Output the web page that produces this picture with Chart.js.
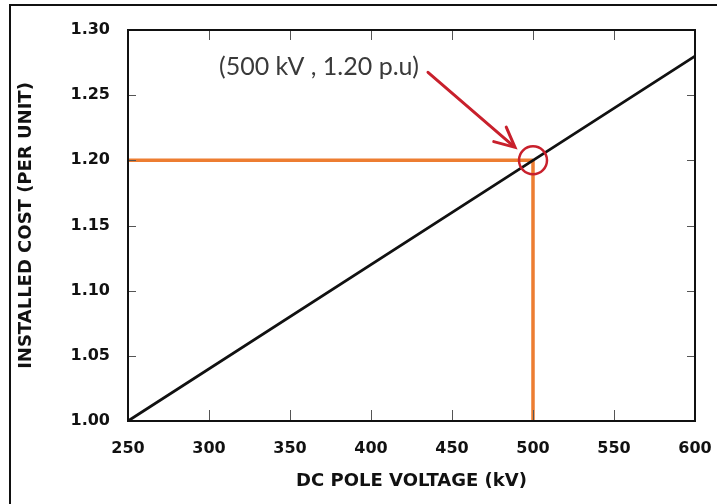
<!DOCTYPE html>
<html>
<head>
<meta charset="utf-8">
<script src="https://cdn.jsdelivr.net/npm/chart.js@4/dist/chart.umd.min.js"></script>
<style>
  html, body { margin: 0; padding: 0; background: #fff; }
  #wrap { position: relative; width: 717px; height: 504px; overflow: hidden; background: #fff; }
  #frame { position: absolute; left: 9px; top: 4px; width: 800px; height: 600px;
           border-left: 2px solid #111; border-top: 2px solid #111; pointer-events: none; }
  canvas { position: absolute; left: 0; top: 0; }
</style>
</head>
<body>
<div id="wrap">
  <canvas id="chart" width="717" height="504"></canvas>
  <div id="frame"></div>
</div>
<script>
// values
const voltageKv = [250, 500, 600];
const costPu = [1.00, 1.20, 1.28];
const xTicks = [250, 300, 350, 400, 450, 500, 550, 600];
const yTicks = [1.00, 1.05, 1.10, 1.15, 1.20, 1.25, 1.30];
const markKv = 500;
const markPu = 1.20;
const markText = '(500 kV , 1.20 p.u)';

const orange = '#ed7d31';
const red = '#c8202c';

Chart.defaults.font.family = '"DejaVu Sans", sans-serif';
Chart.defaults.color = '#111';

const pts = (xs, ys) => xs.map((x, i) => ({ x, y: ys[i] }));

// box round the plot plus the small inward ticks on all four sides
const frameTicks = {
  id: 'frameTicks',
  afterDatasetsDraw(chart) {
    const { ctx, chartArea: a, scales: { x, y } } = chart;
    ctx.save();
    ctx.strokeStyle = '#555';
    ctx.lineWidth = 1;
    ctx.beginPath();
    xTicks.slice(1, -1).forEach(v => {
      const px = Math.round(x.getPixelForValue(v)) + 0.5;
      ctx.moveTo(px, a.bottom); ctx.lineTo(px, a.bottom - 11);
      ctx.moveTo(px, a.top); ctx.lineTo(px, a.top + 10);
    });
    yTicks.slice(1, -1).forEach(v => {
      const py = Math.round(y.getPixelForValue(v)) + 0.5;
      ctx.moveTo(a.left, py); ctx.lineTo(a.left + 8, py);
      ctx.moveTo(a.right, py); ctx.lineTo(a.right - 8, py);
    });
    ctx.stroke();
    ctx.strokeStyle = '#111';
    ctx.lineWidth = 2;
    ctx.strokeRect(a.left, a.top, a.right - a.left, a.bottom - a.top);
    ctx.restore();
  }
};

// callout text and red arrow pointing at the marked point
const callout = {
  id: 'callout',
  afterDraw(chart) {
    const { ctx, scales: { x, y } } = chart;
    const px = x.getPixelForValue(markKv);
    const py = y.getPixelForValue(markPu);
    ctx.save();
    ctx.font = '25px Lato';
    ctx.fillStyle = '#3a3a3a';
    ctx.textAlign = 'right';
    ctx.textBaseline = 'alphabetic';
    ctx.fillText(markText, px - 114, py - 85);

    const sx = px - 105, sy = py - 88, tx = px - 18, ty = py - 13;
    const ang = Math.atan2(ty - sy, tx - sx);
    ctx.strokeStyle = red;
    ctx.lineWidth = 3;
    ctx.lineCap = 'round';
    ctx.beginPath();
    ctx.moveTo(sx, sy); ctx.lineTo(tx - 2 * Math.cos(ang), ty - 2 * Math.sin(ang));
    ctx.stroke();
    ctx.beginPath();
    ctx.moveTo(tx + 22 * Math.cos(ang + Math.PI - 0.45), ty + 22 * Math.sin(ang + Math.PI - 0.45));
    ctx.lineTo(tx, ty);
    ctx.lineTo(tx + 22 * Math.cos(ang + Math.PI + 0.45), ty + 22 * Math.sin(ang + Math.PI + 0.45));
    ctx.stroke();
    ctx.restore();
  }
};

new Chart(document.getElementById('chart'), {
  type: 'scatter',
  data: {
    datasets: [
      { data: [{ x: markKv, y: markPu }], pointRadius: 14, pointBorderWidth: 2.5,
        pointBorderColor: red, pointBackgroundColor: 'rgba(0,0,0,0)', order: 0 },
      { data: pts(voltageKv, costPu), showLine: true, borderColor: '#111', borderWidth: 2.8,
        pointRadius: 0, order: 1 },
      { data: pts([voltageKv[0], markKv], [markPu, markPu]), showLine: true, borderColor: orange,
        borderWidth: 3.5, pointRadius: 0, order: 2 },
      { data: pts([markKv, markKv], [markPu, costPu[0]]), showLine: true, borderColor: orange,
        borderWidth: 3.5, pointRadius: 0, order: 2 }
    ]
  },
  options: {
    responsive: false,
    animation: false,
    events: [],
    layout: { padding: { left: 10, top: 30, right: 22, bottom: 0 } },
    plugins: { legend: { display: false }, tooltip: { enabled: false } },
    scales: {
      x: {
        type: 'linear', min: 250, max: 600,
        afterBuildTicks: s => { s.ticks = xTicks.map(v => ({ value: v })); },
        afterFit: s => { s.height = 83; s.paddingLeft = 0; s.paddingRight = 0; },
        grid: { display: false, drawTicks: false },
        border: { display: false },
        ticks: { padding: 18, font: { size: 16, weight: 'bold' }, color: '#111' },
        title: { display: true, text: 'DC POLE VOLTAGE (kV)', font: { size: 18, weight: 'bold' },
                 color: '#111', padding: { top: 0, bottom: 12 } }
      },
      y: {
        type: 'linear', min: 1.00, max: 1.30,
        afterBuildTicks: s => { s.ticks = yTicks.map(v => ({ value: v })); },
        afterFit: s => { s.width = 118; s.paddingTop = 0; s.paddingBottom = 0; },
        grid: { display: false, drawTicks: false },
        border: { display: false },
        ticks: { padding: 18, font: { size: 16, weight: 'bold' }, color: '#111',
                 callback: v => v.toFixed(2) },
        title: { display: true, text: 'INSTALLED COST (PER UNIT)', font: { size: 18, weight: 'bold' },
                 color: '#111', padding: { top: 6, bottom: 0 } }
      }
    }
  },
  plugins: [frameTicks, callout]
});
</script>
</body>
</html>
